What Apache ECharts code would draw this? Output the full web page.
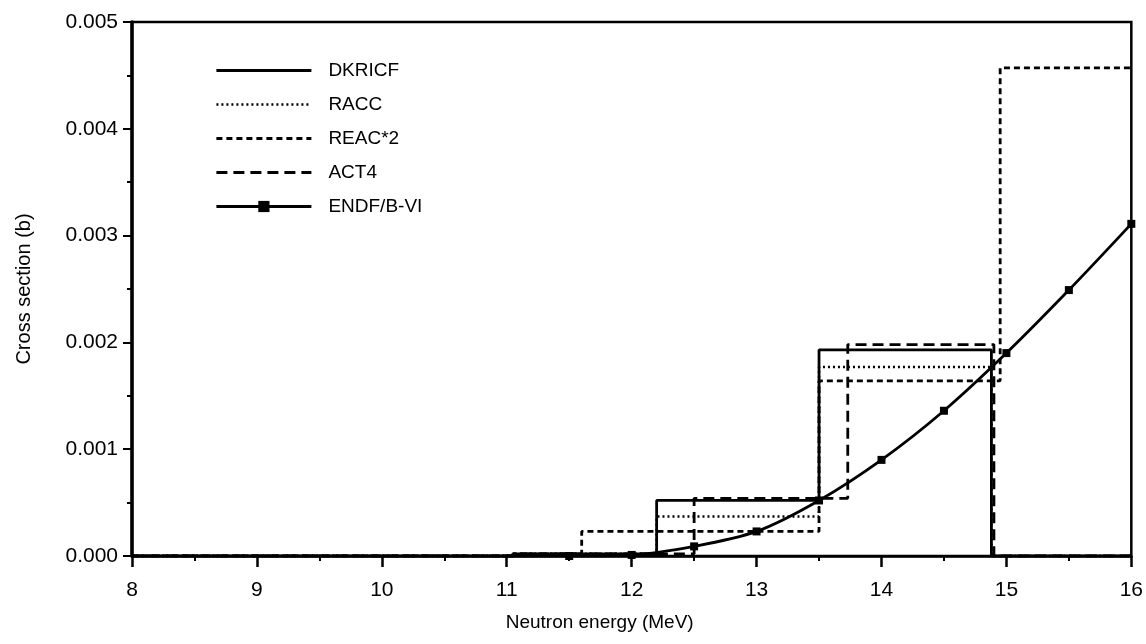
<!DOCTYPE html>
<html>
<head>
<meta charset="utf-8">
<script src="https://cdn.jsdelivr.net/npm/echarts@6/dist/echarts.min.js"></script>
<style>
html,body{margin:0;padding:0;background:#fff;}
#chart{width:1146px;height:644px;}
</style>
</head>
<body>
<div id="chart"></div>
<script>
// ---- data ----
const seriesNames = ['DKRICF', 'RACC', 'REAC*2', 'ACT4', 'ENDF/B-VI'];

// step (histogram) series: bin edges (MeV) and bin values (b)
const dkricfEdges  = [8, 11.05, 12.2, 13.5, 14.88, 16];
const dkricfValues = [0, 0.00002, 0.00052, 0.00193, 0];

const raccEdges  = [8, 11.05, 12.2, 13.5, 14.88, 16];
const raccValues = [0, 0.00002, 0.00037, 0.00177, 0];

const reacEdges  = [8, 11.05, 11.6, 13.5, 14.95, 16];
const reacValues = [0, 0.00002, 0.00023, 0.00164, 0.00457];

const act4Edges  = [8, 11.05, 12.5, 13.73, 14.9, 16];
const act4Values = [0, 0.00002, 0.00054, 0.00198, 0];

// ENDF/B-VI pointwise
const endfEnergy = [11.0, 11.5, 12.0, 12.5, 13.0, 13.5, 14.0, 14.5, 15.0, 15.5, 16.0];
const endfXs     = [0, 0, 0.00001, 0.00009, 0.00023, 0.00052, 0.00090, 0.00136, 0.00190, 0.00249, 0.00311];

const xTicks = [8, 9, 10, 11, 12, 13, 14, 15, 16];
const yTicks = [0, 0.001, 0.002, 0.003, 0.004, 0.005];

// ---- build ----
function stepPoints(edges, values) {
  const pts = [];
  for (let i = 0; i < values.length; i++) {
    pts.push([edges[i], values[i]]);
    pts.push([edges[i + 1], values[i]]);
  }
  return pts;
}

const FONT = "'Liberation Sans', Arial, Helvetica, sans-serif";
const chart = echarts.init(document.getElementById('chart'), null, {renderer: 'canvas'});

const hiddenMarker = {color: 'rgba(0,0,0,0)', borderWidth: 0, opacity: 0};
const legendStyles = {
  'DKRICF':   {itemStyle: hiddenMarker, lineStyle: {width: 2.8, type: 'solid', color: '#000'}},
  'RACC':     {itemStyle: hiddenMarker, lineStyle: {width: 2.5, type: [2, 3], color: '#000'}},
  'REAC*2':   {itemStyle: hiddenMarker, lineStyle: {width: 2.8, type: [6, 4], color: '#000'}},
  'ACT4':     {itemStyle: hiddenMarker, lineStyle: {width: 2.8, type: [11, 6], color: '#000'}},
  'ENDF/B-VI':{lineStyle: {width: 2.8, type: 'solid', color: '#000'}}
};

const option = {
  backgroundColor: '#fff',
  animation: false,
  textStyle: {fontFamily: FONT, color: '#000'},
  grid: {
    left: 132, right: 13, top: 22, bottom: 88,
    show: true, borderColor: '#000', borderWidth: 2.5, backgroundColor: 'transparent'
  },
  legend: {
    orient: 'vertical',
    left: 210, top: 56,
    itemWidth: 95, itemHeight: 14, itemGap: 15,
    data: seriesNames.map(n => Object.assign({name: n}, legendStyles[n])),
    textStyle: {fontFamily: FONT, fontSize: 19, color: '#000', padding: [0, 0, 0, 12]},
    selectedMode: false
  },
  xAxis: {
    type: 'value', min: xTicks[0], max: xTicks[xTicks.length - 1], interval: 1,
    name: 'Neutron energy (MeV)', nameLocation: 'middle', nameGap: 57,
    nameTextStyle: {fontFamily: FONT, fontSize: 19, color: '#000', padding: [0, 64, 0, 0]},
    axisLine: {show: true, onZero: false, lineStyle: {color: '#000', width: 2.5}},
    axisTick: {show: true, inside: false, length: 11, lineStyle: {color: '#000', width: 2.5}},
    minorTick: {show: true, splitNumber: 2, length: 5, lineStyle: {color: '#000', width: 2}},
    axisLabel: {fontFamily: FONT, fontSize: 21, color: '#000', margin: 24},
    splitLine: {show: false}
  },
  yAxis: {
    type: 'value', min: yTicks[0], max: yTicks[yTicks.length - 1], interval: 0.001,
    name: 'Cross section (b)', nameLocation: 'middle', nameGap: 98,
    nameTextStyle: {fontFamily: FONT, fontSize: 20, color: '#000'},
    axisLine: {show: true, lineStyle: {color: '#000', width: 3.5}},
    axisTick: {show: true, inside: false, length: 9, lineStyle: {color: '#000', width: 2}},
    minorTick: {show: true, splitNumber: 2, length: 5, lineStyle: {color: '#000', width: 2}},
    axisLabel: {fontFamily: FONT, fontSize: 21, color: '#000', margin: 14,
      formatter: v => v.toFixed(3)},
    splitLine: {show: false}
  },
  series: [
    {
      name: 'DKRICF', type: 'line', symbol: 'none', z: 3,
      data: stepPoints(dkricfEdges, dkricfValues),
      lineStyle: {color: '#000', width: 2.8, type: 'solid'},
      itemStyle: {color: '#000'}
    },
    {
      name: 'RACC', type: 'line', symbol: 'none', z: 3,
      data: stepPoints(raccEdges, raccValues),
      lineStyle: {color: '#000', width: 2.5, type: [2, 3]},
      itemStyle: {color: '#000'}
    },
    {
      name: 'REAC*2', type: 'line', symbol: 'none', z: 3,
      data: stepPoints(reacEdges, reacValues),
      lineStyle: {color: '#000', width: 2.8, type: [6, 4]},
      itemStyle: {color: '#000'}
    },
    {
      name: 'ACT4', type: 'line', symbol: 'none', z: 3,
      data: stepPoints(act4Edges, act4Values),
      lineStyle: {color: '#000', width: 2.8, type: [11, 6]},
      itemStyle: {color: '#000'}
    },
    {
      name: 'ENDF/B-VI', type: 'line', symbol: 'rect', symbolSize: 8, z: 4,
      smooth: 0.3, showAllSymbol: true,
      data: endfEnergy.map((e, i) => i === 0 ? {value: [e, endfXs[i]], symbol: 'none'} : [e, endfXs[i]]),
      lineStyle: {color: '#000', width: 2.8},
      itemStyle: {color: '#000'}
    }
  ]
};
chart.setOption(option);
</script>
</body>
</html>
